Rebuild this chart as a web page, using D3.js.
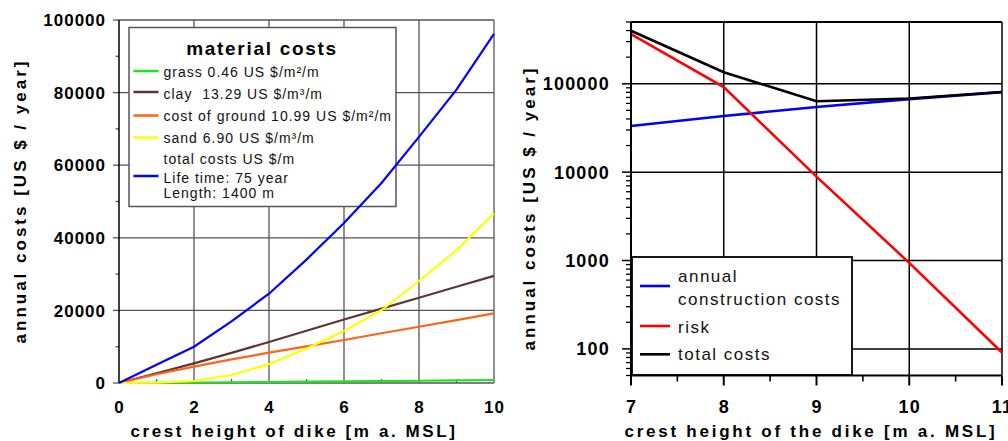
<!DOCTYPE html>
<html><head><meta charset="utf-8">
<script src="https://cdn.jsdelivr.net/npm/d3@7"></script>
<style>
body{margin:0;background:#fff;}
svg{display:block;font-family:"Liberation Sans",Arial,sans-serif;}
</style></head>
<body><svg id="c" width="1008" height="441"></svg>
<script>
// ---- Left chart data ----
const heights = [0,1,2,3,4,5,6,7,8,9,10];
const grass  = [0,70,140,210,280,360,440,530,620,720,830];
const clay   = [0,2700,5400,8300,11300,14400,17500,20500,23500,26500,29500];
const ground = [0,2400,4500,6500,8350,10100,11850,13700,15500,17300,19200];
const sand   = [0,100,550,2200,5200,9500,14300,20100,28100,36600,46700];
const total  = [0,5000,10000,17000,24600,34000,44100,55100,67800,80800,96200];
const leftYTicks = [0,20000,40000,60000,80000,100000];
const leftXTicks = [0,2,4,6,8,10];
const leftLegend = ["grass 0.46 US $/m²/m","clay  13.29 US $/m³/m","cost of ground 10.99 US $/m²/m","sand 6.90 US $/m³/m"];
const leftLegendTotal = ["total costs US $/m","Life time: 75 year","Length: 1400 m"];

// ---- Right chart data ----
const crest = [7,8,9,10,11];
const construction = [33300,43200,54600,67100,80500];
const risk = [365000,91600,8900,940,91];
const totalCosts = [398300,134800,63500,68040,80590];
const rightYTicks = [100,1000,10000,100000];
const rightXTicks = [7,8,9,10,11];
const rightLegend = [["annual","construction costs"],["risk"],["total costs"]];

const svg = d3.select("#c");
const FONT = "'Liberation Sans',Arial,sans-serif";

// ================= LEFT =================
const xL = d3.scaleLinear().domain([0,10]).range([119,494]);
const yL = d3.scaleLinear().domain([0,100000]).range([383,20]);
const gL = svg.append("g");
const gridC = "#555";
// grid
gL.selectAll(".vg").data(leftXTicks.slice(1)).join("line")
  .attr("x1",d=>xL(d)).attr("x2",d=>xL(d)).attr("y1",yL(0)).attr("y2",yL(100000))
  .attr("stroke",gridC).attr("stroke-width",1.3);
gL.selectAll(".hg").data(leftYTicks).join("line")
  .attr("x1",xL(0)).attr("x2",xL(10)).attr("y1",d=>yL(d)).attr("y2",d=>yL(d))
  .attr("stroke",gridC).attr("stroke-width",1.3);
// y axis ticks
const yMinorL = d3.range(10000,100000,20000);
gL.selectAll(".yt").data(leftYTicks).join("line")
  .attr("x1",xL(0)-6).attr("x2",xL(0)).attr("y1",d=>yL(d)).attr("y2",d=>yL(d))
  .attr("stroke",gridC).attr("stroke-width",1.3);
gL.selectAll(".ym").data(yMinorL).join("line")
  .attr("x1",xL(0)-3.5).attr("x2",xL(0)).attr("y1",d=>yL(d)).attr("y2",d=>yL(d))
  .attr("stroke",gridC).attr("stroke-width",1.3);
// x minor ticks (inward)
gL.selectAll(".xm").data([1,3,5,7,9]).join("line")
  .attr("x1",d=>xL(d)).attr("x2",d=>xL(d)).attr("y1",yL(0)).attr("y2",yL(0)-4)
  .attr("stroke",gridC).attr("stroke-width",1.3);
// left axis line
gL.append("line").attr("x1",xL(0)).attr("x2",xL(0)).attr("y1",yL(0)).attr("y2",yL(100000))
  .attr("stroke","#000").attr("stroke-width",1.5);
// tick labels
gL.selectAll(".yl").data(leftYTicks).join("text")
  .attr("x",106).attr("y",d=>yL(d)).attr("dy","0.36em").attr("text-anchor","end")
  .attr("font-size",17).attr("font-weight","bold").attr("letter-spacing","1px")
  .attr("font-family",FONT).text(d=>d);
gL.selectAll(".xl").data(leftXTicks).join("text")
  .attr("x",d=>xL(d)+0.5).attr("y",413).attr("text-anchor","middle")
  .attr("font-size",17).attr("font-weight","bold").attr("letter-spacing","1px")
  .attr("font-family",FONT).text(d=>d);
// axis titles
gL.append("text").attr("transform","translate(26,201) rotate(-90)").attr("text-anchor","middle")
  .attr("font-size",17).attr("font-weight","bold").attr("letter-spacing","3px").attr("font-family",FONT)
  .text("annual costs [US $ / year]");
gL.append("text").attr("x",294).attr("y",437).attr("text-anchor","middle")
  .attr("font-size",17).attr("font-weight","bold").attr("letter-spacing","2.6px").attr("font-family",FONT)
  .text("crest height of dike [m a. MSL]");

const seriesL = [
  {v:grass,c:"#1ee61e"},{v:clay,c:"#603434"},{v:ground,c:"#ff6414"},{v:sand,c:"#ffff00"},{v:total,c:"#0000ff"}
];

// left legend (drawn under the curves)
const lgL = gL.append("g");
lgL.append("rect").attr("x",129).attr("y",27.5).attr("width",267).attr("height",179)
  .attr("fill","#fff").attr("stroke","#555").attr("stroke-width",1.5);
lgL.append("text").attr("x",262).attr("y",55).attr("text-anchor","middle")
  .attr("font-size",19).attr("font-weight","bold").attr("letter-spacing","1.7px").attr("font-family",FONT)
  .text("material costs");
const rowBase = [77.3,98.7,120.7,142.7];
const rowLine = [71,92,115.5,137.5];
leftLegend.forEach((t,i)=>{
  lgL.append("line").attr("x1",133.5).attr("x2",158.5).attr("y1",rowLine[i]).attr("y2",rowLine[i])
    .attr("stroke",seriesL[i].c).attr("stroke-width",2.5);
  lgL.append("text").attr("x",163.5).attr("y",rowBase[i]).attr("font-size",14).attr("letter-spacing","1px")
    .attr("font-family",FONT).attr("fill","#111").style("white-space","pre").attr("xml:space","preserve").text(t);
});
const totBase = [164,182.7,197.7];
leftLegendTotal.forEach((t,i)=>{
  lgL.append("text").attr("x",163.5).attr("y",totBase[i]).attr("font-size",14).attr("letter-spacing","1px")
    .attr("font-family",FONT).attr("fill","#111").text(t);
});
lgL.append("line").attr("x1",133.5).attr("x2",158.5).attr("y1",176).attr("y2",176)
  .attr("stroke","#0000ff").attr("stroke-width",2.5);

const lineL = d3.line().x((d,i)=>xL(heights[i])).y(d=>yL(d));
gL.selectAll(".sl").data(seriesL).join("path")
  .attr("d",s=>lineL(s.v)).attr("fill","none").attr("stroke",s=>s.c).attr("stroke-width",2.2);

// ================= RIGHT =================
const xR = d3.scaleLinear().domain([7,11]).range([631,1002]);
const yR = d3.scaleLog().domain([50,500000]).range([375.5,22]);
const gR = svg.append("g");
// grid
gR.selectAll(".vg").data([8,9,10]).join("line")
  .attr("x1",d=>xR(d)).attr("x2",d=>xR(d)).attr("y1",yR(50)).attr("y2",yR(500000))
  .attr("stroke","#000").attr("stroke-width",1.5);
gR.selectAll(".hg").data(rightYTicks).join("line")
  .attr("x1",xR(7)).attr("x2",xR(11)).attr("y1",d=>yR(d)).attr("y2",d=>yR(d))
  .attr("stroke","#000").attr("stroke-width",1.5);
// frame top/right
gR.append("line").attr("x1",xR(7)).attr("x2",xR(11)).attr("y1",yR(500000)).attr("y2",yR(500000))
  .attr("stroke","#000").attr("stroke-width",1.8);
gR.append("line").attr("x1",xR(11)).attr("x2",xR(11)).attr("y1",yR(50)).attr("y2",yR(500000))
  .attr("stroke","#000").attr("stroke-width",1.5);

const lineR = d3.line().x((d,i)=>xR(crest[i])).y(d=>yR(d));
const seriesR = [{v:construction,c:"#0000ff"},{v:risk,c:"#ff0000"},{v:totalCosts,c:"#000000"}];
gR.selectAll(".sr").data(seriesR).join("path")
  .attr("d",s=>lineR(s.v)).attr("fill","none").attr("stroke",s=>s.c).attr("stroke-width",2.6);

// right legend
const lgR = gR.append("g");
lgR.append("rect").attr("x",632).attr("y",257).attr("width",220).attr("height",118)
  .attr("fill","#fff").attr("stroke","#000").attr("stroke-width",1.8);
const rLineY = [286,326,354.3];
const rTextY = [[282.3,305],[332.7],[360]];
rightLegend.forEach((lines,i)=>{
  lgR.append("line").attr("x1",640).attr("x2",670).attr("y1",rLineY[i]).attr("y2",rLineY[i])
    .attr("stroke",seriesR[i].c).attr("stroke-width",2.6);
  lines.forEach((t,j)=>{
    lgR.append("text").attr("x",678).attr("y",rTextY[i][j]).attr("font-size",17)
      .attr("letter-spacing","1.5px").attr("font-family",FONT).attr("fill","#111").text(t);
  });
});

// axes
gR.append("line").attr("x1",xR(7)).attr("x2",xR(7)).attr("y1",yR(50)).attr("y2",yR(500000))
  .attr("stroke","#000").attr("stroke-width",2);
gR.append("line").attr("x1",xR(7)).attr("x2",xR(11)).attr("y1",yR(50)).attr("y2",yR(50))
  .attr("stroke","#000").attr("stroke-width",2.2);
// log ticks
const majorY = [100,1000,10000,100000];
const minorY = [];
[10,100,1000,10000,100000].forEach(b=>{ for(let k=2;k<=9;k++){ const v=b*k; if(v>=50 && v<=500000 && majorY.indexOf(v)<0) minorY.push(v);} });
gR.selectAll(".ytM").data(majorY).join("line")
  .attr("x1",xR(7)-9).attr("x2",xR(7)).attr("y1",d=>yR(d)).attr("y2",d=>yR(d))
  .attr("stroke","#000").attr("stroke-width",1.5);
gR.selectAll(".ytm").data(minorY).join("line")
  .attr("x1",xR(7)-5).attr("x2",xR(7)).attr("y1",d=>yR(d)).attr("y2",d=>yR(d))
  .attr("stroke","#000").attr("stroke-width",1.3);
gR.selectAll(".xtM").data(rightXTicks).join("line")
  .attr("x1",d=>xR(d)).attr("x2",d=>xR(d)).attr("y1",yR(50)).attr("y2",yR(50)+10)
  .attr("stroke","#000").attr("stroke-width",2);
gR.selectAll(".xtm").data([7.5,8.5,9.5,10.5]).join("line")
  .attr("x1",d=>xR(d)).attr("x2",d=>xR(d)).attr("y1",yR(50)).attr("y2",yR(50)+6)
  .attr("stroke","#000").attr("stroke-width",1.6);
// labels
gR.selectAll(".yl").data(majorY).join("text")
  .attr("x",610).attr("y",d=>yR(d)).attr("dy","0.36em").attr("text-anchor","end")
  .attr("font-size",18).attr("font-weight","bold").attr("letter-spacing","1.2px")
  .attr("font-family",FONT).text(d=>d);
gR.selectAll(".xl").data(rightXTicks).join("text")
  .attr("x",d=>xR(d)+0.5).attr("y",413).attr("text-anchor","middle")
  .attr("font-size",18).attr("font-weight","bold").attr("letter-spacing","1.2px")
  .attr("font-family",FONT).text(d=>d);
gR.append("text").attr("transform","translate(535,208) rotate(-90)").attr("text-anchor","middle")
  .attr("font-size",17).attr("font-weight","bold").attr("letter-spacing","3px").attr("font-family",FONT)
  .text("annual costs [US $ / year]");
gR.append("text").attr("x",811).attr("y",437).attr("text-anchor","middle")
  .attr("font-size",17).attr("font-weight","bold").attr("letter-spacing","2.75px").attr("font-family",FONT)
  .text("crest height of the dike [m a. MSL]");
</script></body></html>
